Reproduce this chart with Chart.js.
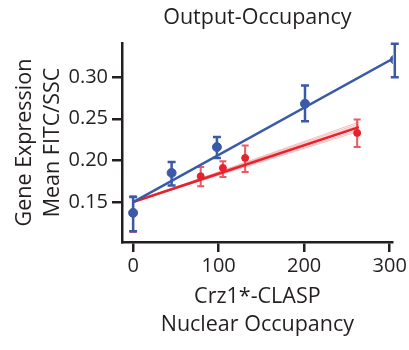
<!DOCTYPE html>
<html>
<head>
<meta charset="utf-8">
<script src="https://cdn.jsdelivr.net/npm/chart.js@4.4.0/dist/chart.umd.min.js"></script>
<style>
  html, body { margin: 0; padding: 0; background: #fff; }
  #wrap { width: 409px; height: 350px; }
</style>
</head>
<body>
<div id="wrap"><canvas id="occ_graph" width="409" height="350"></canvas></div>
<script>
// blue series (measured points)
var blue_x = [0, 45, 98, 201, 306];
var blue_y = [0.137, 0.185, 0.216, 0.268, 0.321];
var blue_hi = [0.156, 0.198, 0.228, 0.290, 0.340];
var blue_lo = [0.115, 0.170, 0.203, 0.247, 0.300];

// red series
var red_x = [0, 79, 105, 131, 262];
var red_y = [0.137, 0.181, 0.191, 0.203, 0.233];
var red_hi = [0.157, 0.192, 0.199, 0.218, 0.249];
var red_lo = [0.114, 0.169, 0.180, 0.186, 0.216];

// fit lines: [start, end]
var blue_fit_x = [0, 307];
var blue_fit_y = [0.150, 0.324];
var red_fit_x = [0, 264];
var red_fit_y = [0.150, 0.240];
// faint bootstrap fits for red, end values at x = 264
var red_band_end = [0.235, 0.237, 0.239, 0.242, 0.244, 0.246];

var x_ticks = [0, 100, 200, 300];
var y_ticks = [0.15, 0.20, 0.25, 0.30];

var BLUE = "#3a5aa8";
var RED = "#e6222b";
var INK = "#231f20";
var FONT = "'Open Sans', sans-serif";

function pts(xs, ys) {
    var out = [];
    for (var i = 0; i < xs.length; i++) out.push({x: xs[i], y: ys[i]});
    return out;
}

// higher "order" = drawn further below
var datasets = [];
for (var i = 0; i < red_band_end.length; i++) {
    datasets.push({
        type: "line",
        order: 5,
        data: pts(red_fit_x, [red_fit_y[0], red_band_end[i]]),
        borderColor: "rgba(230,34,43,0.3)",
        borderWidth: 1,
        pointRadius: 0,
        fill: false
    });
}
datasets.push({
    type: "line",
    order: 4,
    data: pts(red_fit_x, red_fit_y),
    borderColor: RED,
    borderWidth: 2.5,
    pointRadius: 0,
    fill: false
});
datasets.push({
    type: "line",
    order: 3,
    data: pts(blue_fit_x, blue_fit_y),
    borderColor: BLUE,
    borderWidth: 2.5,
    pointRadius: 0,
    fill: false
});
datasets.push({
    type: "scatter",
    order: 2,
    data: pts(red_x, red_y),
    backgroundColor: RED,
    borderColor: RED,
    pointRadius: 3.5,
    errHi: red_hi, errLo: red_lo, errColor: "rgba(230,34,43,0.75)", capW: 3.5, errW: 2
});
datasets.push({
    type: "scatter",
    order: 1,
    data: pts(blue_x, blue_y),
    backgroundColor: BLUE,
    borderColor: BLUE,
    pointRadius: 4.5,
    errHi: blue_hi, errLo: blue_lo, errColor: BLUE, capW: 4, errW: 2.5
});

// vertical error bars with caps, drawn below the markers
var errorBars = {
    id: "errorBars",
    beforeDatasetsDraw: function(chart) {
        var ctx = chart.ctx;
        var xs = chart.scales.x, ys = chart.scales.y;
        chart.data.datasets.forEach(function(ds) {
            if (!ds.errHi) return;
            ctx.save();
            ctx.strokeStyle = ds.errColor;
            ctx.lineWidth = ds.errW;
            ds.data.forEach(function(p, k) {
                var px = xs.getPixelForValue(p.x);
                var top = ys.getPixelForValue(ds.errHi[k]);
                var bot = ys.getPixelForValue(ds.errLo[k]);
                ctx.beginPath();
                ctx.moveTo(px, top); ctx.lineTo(px, bot);
                ctx.moveTo(px - ds.capW, top); ctx.lineTo(px + ds.capW, top);
                ctx.moveTo(px - ds.capW, bot); ctx.lineTo(px + ds.capW, bot);
                ctx.stroke();
            });
            ctx.restore();
        });
    }
};

var ctx = document.getElementById("occ_graph");

var chart = new Chart(ctx, {
    data: { datasets: datasets },
    options: {
        responsive: false,
        animation: false,
        events: [],
        layout: { padding: 0 },
        plugins: {
            legend: { display: false },
            tooltip: { enabled: false },
            title: {
                display: true,
                fullSize: false,
                text: "Output-Occupancy",
                color: INK,
                font: { family: FONT, size: 21.5, weight: "normal", lineHeight: 1.2 },
                padding: { top: 5, bottom: 12.2 }
            }
        },
        scales: {
            x: {
                type: "linear",
                min: -13,
                max: 303.6,
                afterFit: function(s) { s.height = 108; },
                afterBuildTicks: function(s) { s.ticks = x_ticks.map(function(v) { return {value: v}; }); },
                border: { display: true, color: INK, width: 2.5 },
                grid: { display: true, drawOnChartArea: false, color: INK, lineWidth: 2.5, tickLength: 10 },
                ticks: {
                    color: INK, padding: 2,
                    font: { family: FONT, size: 20 },
                    maxRotation: 0
                },
                title: {
                    display: true,
                    text: ["Crz1*-CLASP", "Nuclear Occupancy"],
                    color: INK,
                    font: { family: FONT, size: 21.5, lineHeight: 1.3 },
                    padding: { top: 0, bottom: 11 }
                }
            },
            y: {
                type: "linear",
                min: 0.102,
                max: 0.341,
                afterFit: function(s) { s.width = 122; },
                afterBuildTicks: function(s) { s.ticks = y_ticks.map(function(v) { return {value: v}; }); },
                border: { display: true, color: INK, width: 2.5 },
                grid: { display: true, drawOnChartArea: false, color: INK, lineWidth: 2.5, tickLength: 10 },
                ticks: {
                    color: INK, padding: 4,
                    font: { family: FONT, size: 20 },
                    callback: function(v) { return v.toFixed(2); }
                },
                title: {
                    display: true,
                    text: ["Gene Expression", "Mean FITC/SSC"],
                    color: INK,
                    font: { family: FONT, size: 21.5, lineHeight: 1.3 },
                    padding: { top: 11, bottom: 0 }
                }
            }
        }
    },
    plugins: [errorBars]
});
</script>
</body>
</html>
